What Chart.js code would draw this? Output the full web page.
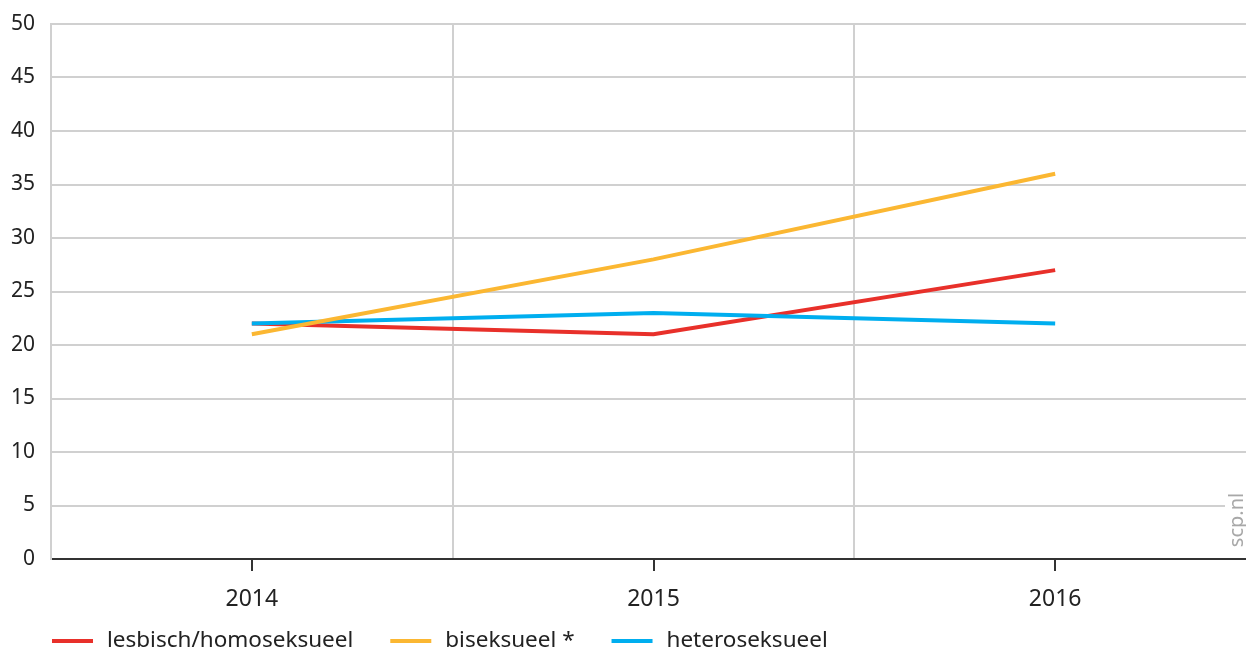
<!DOCTYPE html>
<html>
<head>
<meta charset="utf-8">
<script src="https://cdn.jsdelivr.net/npm/chart.js@4/dist/chart.umd.min.js"></script>
<style>
  html, body { margin: 0; padding: 0; background: #fff; overflow: hidden; }
  #wrap { width: 1256px; height: 652px; }
</style>
</head>
<body>
<div id="wrap"><canvas id="c" width="1256" height="652"></canvas></div>
<script>
const years = ['2014', '2015', '2016'];
const lesbischHomo = [22, 21, 27];
const biseksueel = [21, 28, 36];
const heteroseksueel = [22, 23, 22];
const yTicks = [0, 5, 10, 15, 20, 25, 30, 35, 40, 45, 50];

const FONT = "'Noto Sans', sans-serif";

// tick marks under each year, the source mark and the legend row
const extras = {
  id: 'extras',
  afterDraw(chart) {
    const ctx = chart.ctx;
    const x = chart.scales.x;
    const area = chart.chartArea;
    ctx.save();
    ctx.strokeStyle = '#333';
    ctx.lineWidth = 2;
    x.ticks.forEach((t, i) => {
      const px = Math.round(x.getPixelForTick(i));
      ctx.beginPath();
      ctx.moveTo(px, area.bottom);
      ctx.lineTo(px, area.bottom + 12);
      ctx.stroke();
    });
    ctx.restore();

    // source mark
    ctx.save();
    ctx.translate(1237, 520);
    ctx.rotate(-Math.PI / 2);
    ctx.font = "20px " + FONT;
    const w = ctx.measureText('scp.nl').width;
    ctx.fillStyle = '#fff';
    ctx.fillRect(-w / 2 - 4, -12, w + 8, 24);
    ctx.fillStyle = '#a8a8a8';
    ctx.textAlign = 'center';
    ctx.textBaseline = 'middle';
    ctx.fillText('scp.nl', 0, 0);
    ctx.restore();

    // legend
    ctx.save();
    ctx.font = "22.5px " + FONT;
    ctx.textBaseline = 'middle';
    ctx.textAlign = 'left';
    let lx = 52;
    const ly = 641;
    chart.data.datasets.forEach(d => {
      ctx.fillStyle = d.borderColor;
      ctx.fillRect(lx, ly - 2, 41, 4);
      lx += 41 + 14;
      ctx.fillStyle = '#222';
      ctx.fillText(d.label, lx, ly);
      lx += ctx.measureText(d.label).width + 37;
    });
    ctx.restore();
  }
};

const mk = (label, data, color, order) => ({
  label, data,
  borderColor: color,
  backgroundColor: color,
  borderWidth: 4,
  pointRadius: 0,
  pointHoverRadius: 0,
  tension: 0,
  fill: false,
  order
});

new Chart(document.getElementById('c'), {
  type: 'line',
  data: {
    labels: years,
    datasets: [
      mk('lesbisch/homoseksueel', lesbischHomo, '#e8302a', 3),
      mk('biseksueel *', biseksueel, '#fbb732', 1),
      mk('heteroseksueel', heteroseksueel, '#00aeef', 2)
    ]
  },
  options: {
    responsive: false,
    animation: false,
    layout: { padding: { top: 24, right: 0, bottom: 0, left: 0 } },
    plugins: {
      tooltip: { enabled: false },
      legend: { display: false }
    },
    scales: {
      x: {
        offset: true,
        afterFit(scale) { scale.height = 93; },
        grid: { offset: true, color: '#d0d0d0', lineWidth: 2, drawTicks: false },
        border: { color: '#333', width: 2 },
        ticks: { color: '#222', font: { family: FONT, size: 23 }, padding: 27 }
      },
      y: {
        min: 0,
        max: 50,
        afterBuildTicks(scale) { scale.ticks = yTicks.map(v => ({ value: v })); },
        afterFit(scale) {
          scale.width = 51;
          scale.paddingTop = 0;
          scale.paddingBottom = 0;
        },
        grid: { color: '#d0d0d0', lineWidth: 2, drawTicks: false },
        border: { color: '#d0d0d0', width: 2 },
        ticks: { color: '#222', font: { family: FONT, size: 21 }, padding: 16 }
      }
    }
  },
  plugins: [extras]
});
</script>
</body>
</html>
